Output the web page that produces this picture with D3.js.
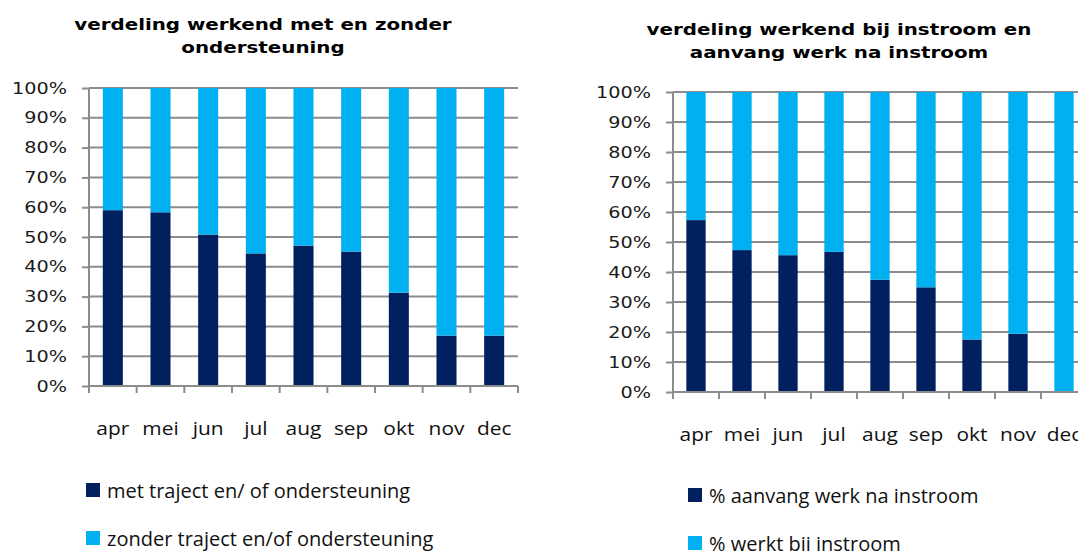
<!DOCTYPE html>
<html>
<head>
<meta charset="utf-8">
<script src="https://cdn.jsdelivr.net/npm/d3@7"></script>
<style>
  html, body { margin: 0; padding: 0; background: #fff; overflow: hidden; }
  svg { display: block; }
</style>
</head>
<body>
<div id="chart"></div>
<script>
// data (percent of working people per month)
const months = ["apr", "mei", "jun", "jul", "aug", "sep", "okt", "nov", "dec"];
const yTicks = [0, 0.1, 0.2, 0.3, 0.4, 0.5, 0.6, 0.7, 0.8, 0.9, 1];

const metTraject    = [59.0, 58.3, 50.8, 44.5, 47.1, 45.1, 31.3, 16.9, 16.9];
const zonderTraject = [41.0, 41.7, 49.2, 55.5, 52.9, 54.9, 68.7, 83.1, 83.1];

const aanvangWerk      = [57.3, 47.3, 45.6, 46.7, 37.4, 34.9, 17.5, 19.4, 0];
const werktBijInstroom = [42.7, 52.7, 54.4, 53.3, 62.6, 65.1, 82.5, 80.6, 100];

const dark = "#002060", light = "#00b0f0", grid = "#8c8c8c";

let svg = d3.select("#chart").append("svg").attr("width", 1078).attr("height", 551);

// widen text a little, the original fonts are broad
function stretch(sel, k) {
    sel.each(function() {
        let w = this.getComputedTextLength();
        this.setAttribute("textLength", w * k);
        this.setAttribute("lengthAdjust", "spacingAndGlyphs");
    });
}

function drawChart(cfg) {
    let rows = months.map((m, i) => ({month: m, a: cfg.bottom[i], b: cfg.top[i]}));
    let series = d3.stack().keys(["a", "b"]).offset(d3.stackOffsetExpand)(rows);

    let x = d3.scaleBand().domain(months).range([cfg.x0, cfg.x1])
        .paddingInner(0.58).paddingOuter(0.29);
    let y = d3.scaleLinear().domain([0, 1]).range([cfg.y1, cfg.y0]);

    let g = svg.append("g");

    // gridlines
    g.append("g").selectAll("line").data(yTicks.slice(1)).join("line")
        .attr("x1", cfg.x0).attr("x2", cfg.x1)
        .attr("y1", d => y(d)).attr("y2", d => y(d))
        .style("stroke", grid).style("stroke-width", 2);

    // bars
    g.append("g").selectAll("g").data(series).join("g")
        .attr("fill", (d, i) => i == 0 ? dark : light)
        .selectAll("rect").data(d => d).join("rect")
        .attr("x", d => x(d.data.month))
        .attr("width", x.bandwidth())
        .attr("y", d => y(d[1]))
        .attr("height", d => y(d[0]) - y(d[1]));

    // y axis
    let y_axis = d3.axisLeft(y).tickValues(yTicks).tickFormat(d3.format(".0%"))
        .tickSize(7).tickPadding(15);
    let ya = g.append("g").attr("transform", "translate(" + cfg.x0 + ",0)").call(y_axis);
    ya.select(".domain").remove();
    ya.append("line").attr("x1", 0).attr("x2", 0).attr("y1", cfg.y0).attr("y2", cfg.y1)
        .style("stroke", grid).style("stroke-width", 2);
    ya.selectAll(".tick line").style("stroke", grid).style("stroke-width", 2);
    ya.selectAll(".tick text")
        .style("font-family", "DejaVu Sans").style("font-size", "16px").attr("fill", "#1a1a1a");
    stretch(ya.selectAll(".tick text"), 1.2);

    // x axis with ticks between categories
    let step = x.step();
    let bounds = d3.range(months.length + 1).map(i => cfg.x0 + i * step);
    g.append("line").attr("x1", cfg.x0).attr("x2", cfg.x1).attr("y1", cfg.y1).attr("y2", cfg.y1)
        .style("stroke", grid).style("stroke-width", 2);
    g.append("g").selectAll("line").data(bounds).join("line")
        .attr("x1", d => d).attr("x2", d => d).attr("y1", cfg.y1).attr("y2", cfg.y1 + 7)
        .style("stroke", grid).style("stroke-width", 2);
    let xl = g.append("g").selectAll("text").data(months).join("text")
        .attr("x", d => x(d) + x.bandwidth() / 2)
        .attr("y", cfg.y1 + 49)
        .attr("text-anchor", "middle")
        .style("font-family", "Open Sans").style("font-size", "19px").attr("fill", "#111")
        .text(d => d);
    stretch(xl, 1.1);

    // title
    let tt = g.append("g").selectAll("text").data(cfg.title).join("text")
        .attr("x", cfg.titleX).attr("y", (d, i) => cfg.titleY + i * 23)
        .attr("text-anchor", "middle")
        .style("font-family", "DejaVu Sans").style("font-weight", "bold").style("font-size", "16px")
        .attr("fill", "#000")
        .text(d => d);
    stretch(tt, 1.24);

    // legend
    let lg = g.append("g").selectAll("g").data(cfg.legend).join("g")
        .attr("transform", (d, i) => "translate(" + cfg.legX + "," + (cfg.legY + i * 48) + ")");
    lg.append("rect").attr("x", 0).attr("y", -15).attr("width", 14).attr("height", 14)
        .attr("fill", (d, i) => i == 0 ? dark : light);
    let lt = lg.append("text").attr("x", 21).attr("y", 0)
        .style("font-family", "Open Sans").style("font-size", "20px").attr("fill", "#111")
        .text(d => d);
    stretch(lt, 1.0);
}

drawChart({
    bottom: metTraject, top: zonderTraject,
    x0: 89, x1: 518, y0: 88, y1: 386,
    title: ["verdeling werkend met en zonder", "ondersteuning"], titleX: 263, titleY: 30,
    legend: ["met traject en/ of ondersteuning", "zonder traject en/of ondersteuning"],
    legX: 86, legY: 498
});

drawChart({
    bottom: aanvangWerk, top: werktBijInstroom,
    x0: 673, x1: 1087, y0: 92, y1: 392,
    title: ["verdeling werkend bij instroom en", "aanvang werk na instroom"], titleX: 839, titleY: 35,
    legend: ["% aanvang werk na instroom", "% werkt bij instroom"],
    legX: 688, legY: 503
});
</script>
</body>
</html>
